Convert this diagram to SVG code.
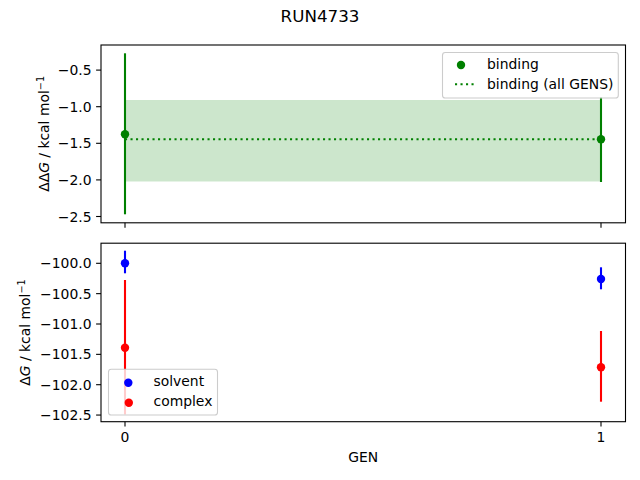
<svg xmlns="http://www.w3.org/2000/svg" width="640" height="480" viewBox="0 0 640 480">
<style>
text{font-family:"DejaVu Sans","Liberation Sans",sans-serif;font-size:13.9px;fill:#000}
.yt{text-anchor:end}
.xt{text-anchor:middle}
.spine{fill:none;stroke:#000;stroke-width:1.1}
.tick{stroke:#000;stroke-width:1.1}
.eg{stroke:#008000;stroke-width:2.1}
.eb{stroke:#0000ff;stroke-width:2.1}
.er{stroke:#ff0000;stroke-width:2.1}
.leg{fill:#fff;fill-opacity:0.8;stroke:#cccccc;stroke-width:1.1}
</style>
<rect width="640" height="480" fill="#fff"/>
<text x="320" y="21.5" text-anchor="middle" style="font-size:16.7px">RUN4733</text>

<g id="top-axes">
  <rect x="125" y="100" width="476" height="81.5" fill="#008000" fill-opacity="0.2"/>
  <line x1="125" y1="139.3" x2="601" y2="139.3" stroke="#008000" stroke-width="2.1" stroke-dasharray="2.1,3.4"/>
  <line class="eg" x1="125" y1="53.3" x2="125" y2="214.3"/>
  <line class="eg" x1="601" y1="97" x2="601" y2="182"/>
  <circle cx="125" cy="134.3" r="4.2" fill="#008000"/>
  <circle cx="601" cy="139.3" r="4.2" fill="#008000"/>
  <rect class="spine" x="101" y="45" width="524.5" height="177.8"/>
  <g class="tick">
    <line x1="101" y1="70.1" x2="96.1" y2="70.1"/>
    <line x1="101" y1="106.7" x2="96.1" y2="106.7"/>
    <line x1="101" y1="143.3" x2="96.1" y2="143.3"/>
    <line x1="101" y1="179.9" x2="96.1" y2="179.9"/>
    <line x1="101" y1="216.5" x2="96.1" y2="216.5"/>
    <line x1="125" y1="222.8" x2="125" y2="227.7"/>
    <line x1="601" y1="222.8" x2="601" y2="227.7"/>
  </g>
  <text class="yt" x="91.5" y="75.1">−0.5</text>
  <text class="yt" x="91.5" y="111.7">−1.0</text>
  <text class="yt" x="91.5" y="148.3">−1.5</text>
  <text class="yt" x="91.5" y="184.9">−2.0</text>
  <text class="yt" x="91.5" y="221.5">−2.5</text>
  <text transform="translate(49.3,133.9) rotate(-90)" text-anchor="middle">ΔΔ<tspan font-style="italic">G</tspan> / kcal mol<tspan baseline-shift="super" style="font-size:9.7px">−1</tspan></text>
  <g id="legend-top">
    <rect class="leg" x="442.5" y="52.5" width="175.8" height="45.5" rx="2.8"/>
    <circle cx="461" cy="65" r="4.2" fill="#008000"/>
    <line x1="455" y1="84.3" x2="475" y2="84.3" stroke="#008000" stroke-width="2.1" stroke-dasharray="2.1,3.4"/>
    <text x="487" y="69.3">binding</text>
    <text x="487" y="88.8">binding (all GENS)</text>
  </g>
</g>

<g id="bottom-axes">
  <line class="eb" x1="125" y1="250.7" x2="125" y2="273.3"/>
  <line class="eb" x1="601" y1="267.3" x2="601" y2="289.3"/>
  <line class="er" x1="125" y1="280" x2="125" y2="414.5"/>
  <line class="er" x1="601" y1="331" x2="601" y2="401.7"/>
  <circle cx="125" cy="263.3" r="4.2" fill="#0000ff"/>
  <circle cx="601" cy="279" r="4.2" fill="#0000ff"/>
  <circle cx="125" cy="347.7" r="4.2" fill="#ff0000"/>
  <circle cx="601" cy="367.3" r="4.2" fill="#ff0000"/>
  <rect class="spine" x="101" y="243.2" width="524.5" height="178.5"/>
  <g class="tick">
    <line x1="101" y1="263.3" x2="96.1" y2="263.3"/>
    <line x1="101" y1="293.65" x2="96.1" y2="293.65"/>
    <line x1="101" y1="324" x2="96.1" y2="324"/>
    <line x1="101" y1="354.35" x2="96.1" y2="354.35"/>
    <line x1="101" y1="384.7" x2="96.1" y2="384.7"/>
    <line x1="101" y1="415.05" x2="96.1" y2="415.05"/>
    <line x1="125" y1="421.7" x2="125" y2="426.6"/>
    <line x1="601" y1="421.7" x2="601" y2="426.6"/>
  </g>
  <text class="yt" x="91.5" y="268.3">−100.0</text>
  <text class="yt" x="91.5" y="298.65">−100.5</text>
  <text class="yt" x="91.5" y="329">−101.0</text>
  <text class="yt" x="91.5" y="359.35">−101.5</text>
  <text class="yt" x="91.5" y="389.7">−102.0</text>
  <text class="yt" x="91.5" y="420.05">−102.5</text>
  <text class="xt" x="125" y="441.5">0</text>
  <text class="xt" x="601" y="441.5">1</text>
  <text class="xt" x="363.3" y="461.5">GEN</text>
  <text transform="translate(29.5,332.5) rotate(-90)" text-anchor="middle">Δ<tspan font-style="italic">G</tspan> / kcal mol<tspan baseline-shift="super" style="font-size:9.7px">−1</tspan></text>
  <g id="legend-bottom">
    <rect class="leg" x="108.5" y="369.3" width="109" height="45.7" rx="2.8"/>
    <circle cx="128.3" cy="382.7" r="4.2" fill="#0000ff"/>
    <circle cx="128.8" cy="402.7" r="4.2" fill="#ff0000"/>
    <text x="153.5" y="385.8">solvent</text>
    <text x="153.5" y="406">complex</text>
  </g>
</g>
</svg>
